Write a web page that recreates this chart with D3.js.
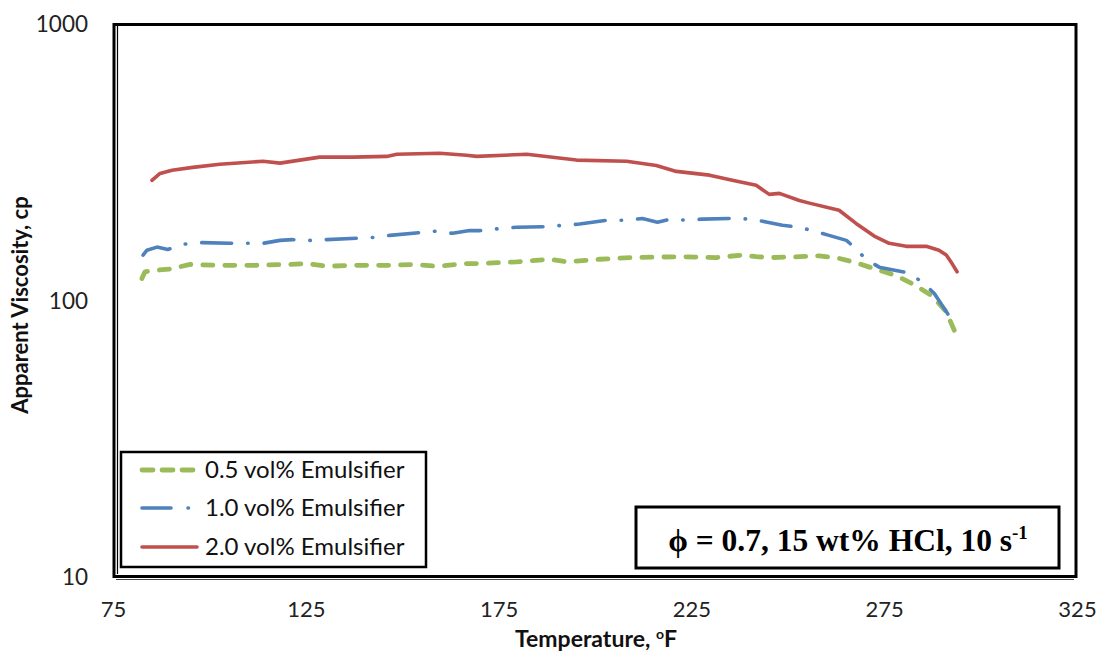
<!DOCTYPE html>
<html><head><meta charset="utf-8">
<script src="https://cdn.jsdelivr.net/npm/d3@7"></script>
<style>
html,body{margin:0;padding:0;background:#fff;}
svg{display:block;}
</style></head>
<body>
<svg id="chart" width="1099" height="654"></svg>
<script>
// ---- data ----
const xTicks = [75, 125, 175, 225, 275, 325];
const yTicks = [10, 100, 1000];
const seriesNames = ["0.5 vol% Emulsifier", "1.0 vol% Emulsifier", "2.0 vol% Emulsifier"];

const temp05 = [82.5,83.3,84.6,89.8,95,102.7,111.3,120.1,125.3,130.4,137.2,146,152.7,158.9,166.7,169.3,179.7,188.2,192.6,201.2,209.7,222.7,231.5,238.2,241.8,246,253,258.2,263.3,267.7,271.9,278.1,283.3,287.4,291.1,293.7];
const visc05 = [120,127,128,130,135,134,134,135,136,133,134,134,135,133,136,136,138,141,138,141,143,144,143,146,144,143,144,145,142,137,131,123,113,104,91,75];

const temp10 = [82.8,83.8,86.4,89.2,93.7,97.5,105.3,109.7,113.9,118.3,121.4,126,130.4,138.2,142.4,146.8,154.5,158.4,163.1,167.5,170.1,175.3,179.7,187.4,191.6,196,203,208.2,212.3,216.2,219.8,224,227.8,235.6,240.5,244.7,248.6,253,256.3,260.7,265.2,267.2,270.3,273.7,281,284.8,288,291.8,293.1];
const visc10 = [146,152,156,153,160,162,161,161,161,165,166,165,166,168,169,172,176,178,175,179,179,182,184,185,187,189,195,195,198,192,197,195,197,198,197,192,187,184,179,172,165,156,141,132,126,117,106,88,82];

const temp20 = [85.1,87.2,90.3,95.7,102.7,113.9,118.3,128.6,137.2,146,148.6,159.7,166.7,169.3,182.3,195.2,208.2,215.9,221.1,229.7,235.6,241.8,245.2,247.8,253,255.6,263.3,267.7,272.4,276.3,280.7,285.9,289.2,291.1,292.6,293.9];
const visc20 = [272,288,296,303,311,319,314,330,330,332,338,341,335,332,338,322,319,308,293,284,272,261,242,244,230,225,212,190,171,161,157,157,152,146,136,127];

const colors = ["#9BBB59", "#4F81BD", "#C0504D"];

// ---- drawing ----
const svg = d3.select("#chart");
const x = d3.scaleLinear().domain([75, 325]).range([113, 1077]);
const y = d3.scaleLog().domain([10, 1000]).range([577, 24]);
const sans = "Lato, 'Noto Sans', sans-serif";

const series = [
  {name: seriesNames[0], t: temp05, v: visc05, color: colors[0], dash: "10,12", width: 4.8},
  {name: seriesNames[1], t: temp10, v: visc10, color: colors[1], dash: "30,16,0.5,16", width: 3.6},
  {name: seriesNames[2], t: temp20, v: visc20, color: colors[2], dash: null, width: 3.6}
];

// frame
svg.append("rect").attr("x", 114).attr("y", 24.5).attr("width", 962).attr("height", 552)
  .attr("fill", "none").attr("stroke", "#000").attr("stroke-width", 3);
svg.append("line").attr("x1", 117.5).attr("x2", 117.5).attr("y1", 26).attr("y2", 574)
  .attr("stroke", "#000").attr("stroke-width", 1.2);
svg.append("line").attr("x1", 116).attr("x2", 1074).attr("y1", 579.5).attr("y2", 579.5)
  .attr("stroke", "#444").attr("stroke-width", 1.2);

// axes (labels only)
const xAxis = d3.axisBottom(x).tickValues(xTicks).tickSize(0).tickFormat(d3.format("d"));
const gx = svg.append("g").attr("transform", "translate(0,607)").call(xAxis);
gx.select(".domain").remove();
gx.selectAll("text").attr("font-family", sans).attr("font-size", 22).attr("fill", "#222").attr("dy", "0.3em");

const yAxis = d3.axisLeft(y).tickValues(yTicks).tickSize(0).tickFormat(d3.format("d"));
const gy = svg.append("g").attr("transform", "translate(91,0)").call(yAxis);
gy.select(".domain").remove();
gy.selectAll("text").attr("font-family", sans).attr("font-size", 22.5).attr("fill", "#222").attr("dy", "0.35em");

// axis titles
svg.append("text").attr("x", 596).attr("y", 647).attr("text-anchor", "middle")
  .attr("font-family", sans).attr("font-weight", "bold").attr("font-size", 23)
  .attr("fill", "#111").html("Temperature, <tspan dy='-8' font-size='14'>o</tspan><tspan dy='8'>F</tspan>");
svg.append("text").attr("transform", "translate(28,305) rotate(-90)").attr("text-anchor", "middle")
  .attr("font-family", sans).attr("font-weight", "bold").attr("font-size", 22)
  .attr("fill", "#111").text("Apparent Viscosity, cp");

// lines
const line = d3.line().x(d => x(d[0])).y(d => y(d[1])).curve(d3.curveLinear);
series.forEach(s => {
  const pts = s.t.map((t, i) => [t, s.v[i]]);
  svg.append("path").datum(pts).attr("d", line)
    .attr("fill", "none").attr("stroke", s.color).attr("stroke-width", s.width)
    .attr("stroke-linecap", "round").attr("stroke-linejoin", "round")
    .attr("stroke-dasharray", s.dash);
});

// legend
const lg = svg.append("g");
lg.append("rect").attr("x", 121).attr("y", 452).attr("width", 305).attr("height", 115)
  .attr("fill", "#fff").attr("stroke", "#000").attr("stroke-width", 2.5);
const ly = [470, 508, 547];
series.forEach((s, i) => {
  lg.append("line").attr("x1", 142).attr("x2", 197).attr("y1", ly[i]).attr("y2", ly[i])
    .attr("stroke", s.color).attr("stroke-width", s.width).attr("stroke-linecap", "round")
    .attr("stroke-dasharray", i === 0 ? "11,9" : (i === 1 ? "29,17,0.5,20" : null));
  lg.append("text").attr("x", 205).attr("y", ly[i]).attr("dy", "0.35em")
    .attr("font-family", sans).attr("font-size", 24).attr("fill", "#111")
    .text(s.name);
});

// annotation box
svg.append("rect").attr("x", 636).attr("y", 507).attr("width", 423).attr("height", 61)
  .attr("fill", "#fff").attr("stroke", "#000").attr("stroke-width", 3);
svg.append("text").attr("x", 848).attr("y", 551).attr("text-anchor", "middle")
  .attr("font-family", "'Liberation Serif', 'Times New Roman', serif").attr("font-weight", "bold").attr("font-size", 31.5)
  .attr("fill", "#000")
  .html("ϕ = 0.7, 15 wt% HCl, 10 s<tspan dy='-12' font-size='19'>-1</tspan>");
</script>
</body></html>
